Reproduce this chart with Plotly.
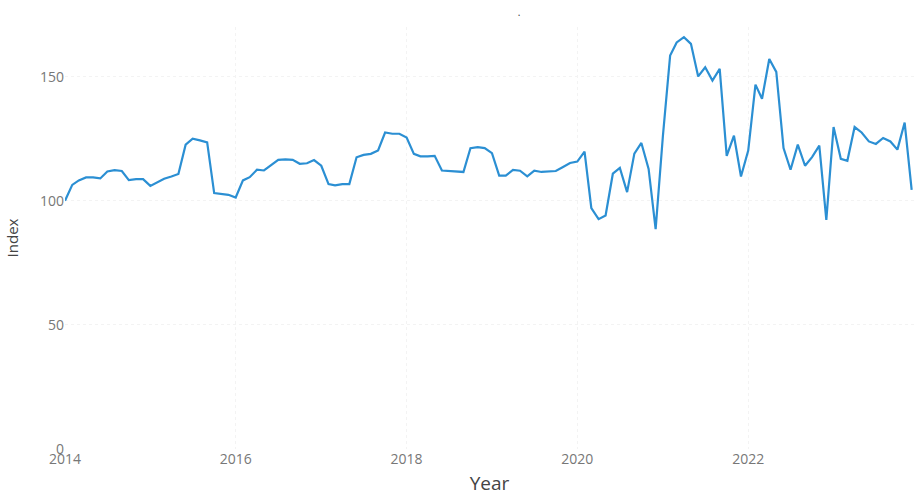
import plotly.graph_objects as go
import pandas as pd

dates = pd.date_range("2014-01-01", periods=120, freq="MS")
index_values = [
    100.0, 106.4, 108.2, 109.4, 109.4, 109.0, 111.8, 112.3, 112.0, 108.3, 108.7, 108.7,
    106.0, 107.6, 108.9, 109.8, 110.8, 122.6, 125.0, 124.3, 123.5, 103.1, 102.8, 102.4,
    101.3, 108.2, 109.5, 112.5, 112.2, 114.5, 116.5, 116.7, 116.5, 114.9, 115.1, 116.4,
    114.1, 106.7, 106.2, 106.7, 106.7, 117.5, 118.5, 118.9, 120.3, 127.5, 127.0, 127.0,
    125.5, 118.9, 117.9, 117.9, 118.1, 112.2, 112.0, 111.8, 111.6, 121.2, 121.6, 121.2,
    119.2, 110.1, 110.1, 112.4, 112.1, 109.8, 112.1, 111.6, 111.8, 112.0, 113.6, 115.2,
    115.8, 119.8, 97.0, 92.6, 94.1, 110.9, 113.2, 103.5, 119.0, 123.3, 112.8, 88.6,
    126.0, 158.5, 163.8, 165.9, 163.2, 150.1, 153.8, 148.4, 153.1, 118.1, 126.2, 109.8,
    120.2, 146.8, 141.1, 157.1, 151.9, 121.2, 112.5, 122.6, 114.1, 117.6, 122.2, 92.3,
    129.7, 116.9, 116.1, 129.7, 127.5, 123.9, 122.9, 125.3, 123.9, 120.6, 131.5, 104.4,
]
x_ticks = ["2014-01-01", "2016-01-01", "2018-01-01", "2020-01-01", "2022-01-01"]
x_tick_labels = ["2014", "2016", "2018", "2020", "2022"]
y_ticks = [0, 50, 100, 150]

fig = go.Figure()
fig.add_trace(go.Scatter(
    x=dates, y=index_values, mode="lines",
    line=dict(color="#2B8FD3", width=2.2),
    showlegend=False, cliponaxis=False,
))

x_end = dates[-1] + pd.Timedelta(days=10)

fig.update_layout(
    width=917, height=496,
    margin=dict(l=65, r=3, t=27, b=47, autoexpand=False),
    paper_bgcolor="white", plot_bgcolor="white",
    font=dict(family="Open Sans, Noto Sans, sans-serif", color="#777777", size=14),
    title=dict(text=".", x=0.566, xref="container", y=0.975, yref="container",
               xanchor="center", yanchor="middle",
               font=dict(size=10, color="#333333")),
    xaxis=dict(
        range=[dates[0], x_end], automargin=False,
        tickvals=x_ticks, ticktext=x_tick_labels,
        showgrid=True, gridcolor="#f3f3f3", griddash="dot", gridwidth=1,
        zeroline=False, showline=False, ticks="",
        title=dict(text="Year", font=dict(size=19, color="#444444"), standoff=12),
        tickfont=dict(size=14, color="#777777"),
    ),
    yaxis=dict(
        range=[0, 170], automargin=False,
        tickvals=y_ticks,
        showgrid=True, gridcolor="#f3f3f3", griddash="dot", gridwidth=1,
        zeroline=False, showline=False, ticks="",
        title=dict(text="Index", font=dict(size=15, color="#444444"), standoff=17),
        tickfont=dict(size=14, color="#777777"),
    ),
)

fig.write_html(
    "out.html",
    config={"displayModeBar": False},
    post_script="document.body.style.margin='0';document.body.style.overflow='hidden';",
)
